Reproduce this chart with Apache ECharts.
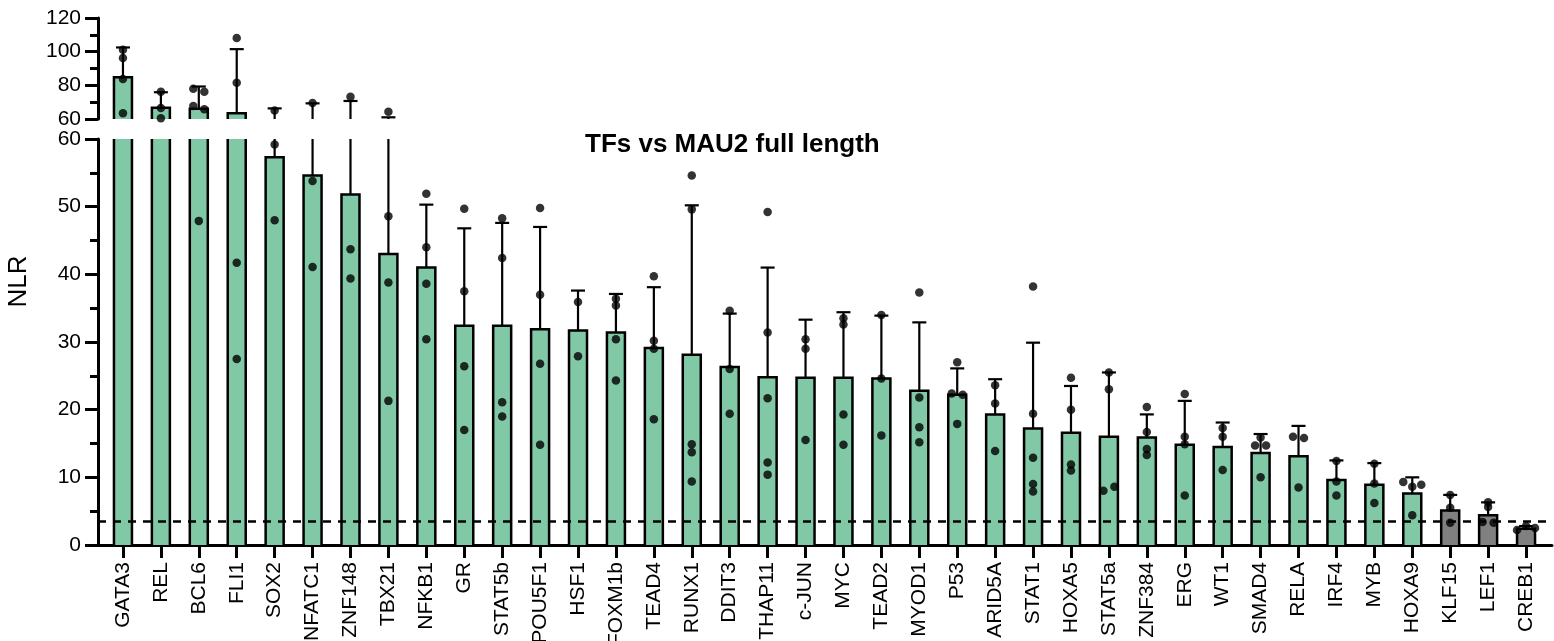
<!DOCTYPE html>
<html><head><meta charset="utf-8">
<script src="https://cdn.jsdelivr.net/npm/echarts@6/dist/echarts.min.js"></script>
<style>html,body{margin:0;padding:0;background:#fff}#c{width:1554px;height:641px}</style>
</head><body><div id="c"></div>
<script>
// ---------------- DATA ----------------
const categories = ['GATA3','REL','BCL6','FLI1','SOX2','NFATC1','ZNF148','TBX21','NFKB1','GR','STAT5b','POU5F1','HSF1','FOXM1b','TEAD4','RUNX1','DDIT3','THAP11','c-JUN','MYC','TEAD2','MYOD1','P53','ARID5A','STAT1','HOXA5','STAT5a','ZNF384','ERG','WT1','SMAD4','RELA','IRF4','MYB','HOXA9','KLF15','LEF1','CREB1'];
const barMeans = [84.8,66.7,66.1,63.4,57.3,54.6,51.8,43.0,41.0,32.4,32.4,31.9,31.7,31.4,29.1,28.1,26.3,24.8,24.7,24.7,24.6,22.8,22.2,19.3,17.2,16.6,16.0,15.9,14.8,14.5,13.6,13.1,9.6,8.9,7.6,5.1,4.4,2.4];
const errorTops = [102.5,75.9,79.3,101.5,66.3,69.3,70.7,61.0,50.3,46.8,47.6,47.0,37.6,37.1,38.1,50.2,34.2,41.0,33.3,34.4,33.9,32.9,26.1,24.5,29.9,23.5,25.5,19.3,21.3,18.1,16.4,17.6,12.5,12.1,10.0,7.4,6.3,2.8];
const replicates = [
  [101.1,96.2,83.8,63.4],[76.2,66.6,60.4],[77.9,76.2,67.7,65.8,47.9],[108.1,81.6,41.7,27.5],
  [65.0,59.2,48.0],[69.5,53.8,41.1],[73.2,43.7,39.4],[64.3,48.6,38.8,21.3],
  [51.9,44.0,38.6,30.4],[49.7,37.5,26.4,17.0],[48.3,42.4,21.1,19.0],[49.8,37.0,26.8,14.8],
  [35.9,27.9],[36.4,35.4,30.4,24.3],[39.7,30.2,29.0,18.6],[54.6,49.6,14.9,13.7,9.4],
  [34.6,26.0,19.4],[49.2,31.4,21.7,12.2,10.4],[30.4,29.0,15.5],[33.5,32.6,19.3,14.8],
  [34.0,24.6,16.2],[37.3,21.8,17.4,15.2],[27.0,22.4,22.2,17.9],[23.6,20.9,13.9],
  [38.2,19.4,12.9,9.0,7.9],[24.7,20.0,11.9,11.0],[25.5,23.0,8.0,8.6],[20.4,16.7,14.2,13.3],
  [22.3,16.0,14.9,7.3],[17.3,16.0,11.1],[15.9,14.7,14.7,10.0],[16.0,15.8,8.5],
  [12.4,9.4,7.3],[12.0,9.1,6.2],[9.3,8.6,8.9,4.4],[7.4,5.5,3.3],[6.3,5.6,3.4,3.3],[2.2,2.8,2.5]
];
const controlGroup = ['KLF15','LEF1','CREB1'];
const threshold = 3.5;
const topTicks = [60,80,100,120];
const bottomTicks = [0,10,20,30,40,50,60];
const titleText = 'TFs vs MAU2 full length';
const yName = 'NLR';

// ---------------- STYLE / LAYOUT ----------------
const FONT = "'Liberation Sans', Arial, Helvetica, sans-serif";
const GREEN = '#80C8A6', GREY = '#808080', INK = '#000';
const GL = 104, GW = 1441;
const TOP = {top: 18, height: 101}, BOT = {top: 139, height: 406};
const topMin = topTicks[0], topMax = topTicks[topTicks.length - 1];
const botMin = bottomTicks[0], botMax = bottomTicks[bottomTicks.length - 1];
const BAR_W = 18, CAP = 7;

function clampY(y, cs) { return Math.min(Math.max(y, cs.y), cs.y + cs.height); }

function renderBar(params, api) {
  const i = api.value(0), v = api.value(1);
  const cs = params.coordSys;
  const p0 = api.coord([i, 0]), p1 = api.coord([i, v]);
  const yBot = clampY(p0[1], cs), yTop = clampY(p1[1], cs);
  if (yBot - yTop < 0.5) return null;
  const x0 = p0[0] - BAR_W / 2, x1 = p0[0] + BAR_W / 2;
  const fill = controlGroup.indexOf(categories[i]) >= 0 ? GREY : GREEN;
  const topVisible = p1[1] >= cs.y;
  const children = [{type: 'rect', shape: {x: x0, y: yTop, width: BAR_W, height: yBot - yTop}, style: {fill: fill}}];
  if (topVisible) {
    children.push({type: 'polyline', shape: {points: [[x0, yBot], [x0, yTop], [x1, yTop], [x1, yBot]]}, style: {stroke: INK, lineWidth: 2.5, fill: null}});
  } else {
    children.push({type: 'line', shape: {x1: x0, y1: yBot, x2: x0, y2: yTop}, style: {stroke: INK, lineWidth: 2.5}});
    children.push({type: 'line', shape: {x1: x1, y1: yBot, x2: x1, y2: yTop}, style: {stroke: INK, lineWidth: 2.5}});
  }
  return {type: 'group', children: children};
}

function renderErr(params, api) {
  const i = api.value(0), m = api.value(1), t = api.value(2);
  const cs = params.coordSys;
  const pm = api.coord([i, m]), pt = api.coord([i, t]);
  if (pt[1] > cs.y + cs.height || pm[1] < cs.y) return null;
  const ya = clampY(pt[1], cs), yb = clampY(pm[1], cs);
  const children = [{type: 'line', shape: {x1: pm[0], y1: yb, x2: pm[0], y2: ya}, style: {stroke: INK, lineWidth: 2.2}}];
  if (pt[1] >= cs.y) children.push({type: 'line', shape: {x1: pm[0] - CAP, y1: pt[1], x2: pm[0] + CAP, y2: pt[1]}, style: {stroke: INK, lineWidth: 2.2}});
  return {type: 'group', children: children};
}

// horizontal spreading of overlapping replicate dots
function pixelPos(v) {
  return v > topMin ? 100000 + (v - topMin) * TOP.height / (topMax - topMin) : (v - botMin) * BOT.height / (botMax - botMin);
}
function spread(vals) {
  const n = vals.length, off = new Array(n).fill(0);
  const order = vals.map((v, i) => i).sort((a, b) => vals[a] - vals[b]);
  let group = [order[0]];
  const flush = () => {
    if (group.length > 1) {
      const g = group.slice().sort((a, b) => a - b);
      const sp = g.length === 2 ? 11 : 9;
      g.forEach((idx, k) => { off[idx] = (k - (g.length - 1) / 2) * sp; });
    }
  };
  for (let k = 1; k < n; k++) {
    const a = order[k - 1], b = order[k];
    if (Math.abs(pixelPos(vals[b]) - pixelPos(vals[a])) < 4.5) group.push(b);
    else { flush(); group = [b]; }
  }
  flush();
  return off;
}
const topPts = [], botPts = [];
replicates.forEach((vals, i) => {
  const off = spread(vals);
  vals.forEach((v, j) => {
    const item = {value: [i, v], symbolOffset: [off[j], 0]};
    if (v >= topMin) topPts.push(item);
    if (v <= botMax) botPts.push(item);
  });
});

const barData = barMeans.map((v, i) => [i, v]);
const errData = barMeans.map((v, i) => [i, v, errorTops[i]]);

function yAxisCfg(grid, min, max, step) {
  return {
    type: 'value', gridIndex: grid, min: min, max: max, interval: step, offset: 6,
    axisLine: {show: true, lineStyle: {color: INK, width: 3}},
    axisTick: {show: true, length: 13, lineStyle: {color: INK, width: 3}},
    minorTick: {show: true, splitNumber: 2, length: 8, lineStyle: {color: INK, width: 3}},
    splitLine: {show: false}, minorSplitLine: {show: false},
    axisLabel: {fontSize: 21, color: INK, fontFamily: FONT, margin: 17}
  };
}

const option = {
  backgroundColor: '#fff',
  animation: false,
  title: {text: titleText, left: 580, top: 127, textStyle: {fontSize: 26, fontWeight: 'bold', color: INK, fontFamily: FONT}},
  grid: [
    {left: GL, width: GW, top: TOP.top, height: TOP.height, outerBoundsMode: 'none', containLabel: false},
    {left: GL, width: GW, top: BOT.top, height: BOT.height, outerBoundsMode: 'none', containLabel: false},
    {left: 98, width: 1454, top: BOT.top, height: BOT.height, outerBoundsMode: 'none', containLabel: false},
    {left: 98, width: 1454, top: TOP.top, height: BOT.top + BOT.height - TOP.top, outerBoundsMode: 'none', containLabel: false}
  ],
  xAxis: [
    {type: 'category', gridIndex: 0, data: categories, show: false},
    {type: 'category', gridIndex: 1, data: categories,
      axisLine: {show: false},
      axisTick: {show: true, alignWithLabel: true, length: 13, lineStyle: {color: INK, width: 3}},
      axisLabel: {rotate: 90, interval: 0, fontSize: 21, color: INK, fontFamily: FONT, margin: 17}},
    {type: 'value', gridIndex: 2, min: 0, max: 1, axisLine: {show: true, onZero: false, lineStyle: {color: INK, width: 3}},
      axisTick: {show: false}, axisLabel: {show: false}, splitLine: {show: false}},
    {type: 'value', gridIndex: 3, min: 0, max: 1, show: false}
  ],
  yAxis: [
    yAxisCfg(0, topMin, topMax, topTicks[1] - topTicks[0]),
    yAxisCfg(1, botMin, botMax, bottomTicks[1] - bottomTicks[0]),
    {type: 'value', gridIndex: 2, min: botMin, max: botMax, show: false},
    {type: 'value', gridIndex: 3, min: 0, max: 1, name: yName, nameLocation: 'middle', nameGap: 66,
      nameTextStyle: {fontSize: 26, color: INK, fontFamily: FONT},
      axisLine: {show: false}, axisTick: {show: false}, axisLabel: {show: false}, splitLine: {show: false}}
  ],
  series: [
    {type: 'custom', xAxisIndex: 0, yAxisIndex: 0, data: barData, renderItem: renderBar, encode: {x: 0, y: 1}, z: 2},
    {type: 'custom', xAxisIndex: 1, yAxisIndex: 1, data: barData, renderItem: renderBar, encode: {x: 0, y: 1}, z: 2},
    {type: 'custom', xAxisIndex: 0, yAxisIndex: 0, data: errData, renderItem: renderErr, encode: {x: 0, y: [1, 2]}, z: 3},
    {type: 'custom', xAxisIndex: 1, yAxisIndex: 1, data: errData, renderItem: renderErr, encode: {x: 0, y: [1, 2]}, z: 3},
    {type: 'scatter', xAxisIndex: 0, yAxisIndex: 0, data: topPts, symbol: 'circle', symbolSize: 8.5, itemStyle: {color: INK}, z: 4},
    {type: 'scatter', xAxisIndex: 1, yAxisIndex: 1, data: botPts, symbol: 'circle', symbolSize: 8.5, itemStyle: {color: INK}, z: 4},
    {type: 'line', xAxisIndex: 2, yAxisIndex: 2, data: [], z: 5,
      markLine: {silent: true, symbol: 'none', label: {show: false},
        lineStyle: {color: INK, width: 2.5, type: [8, 7]}, data: [{yAxis: threshold}]}}
  ]
};
const chart = echarts.init(document.getElementById('c'), null, {renderer: 'canvas'});
chart.setOption(option);
</script></body></html>
